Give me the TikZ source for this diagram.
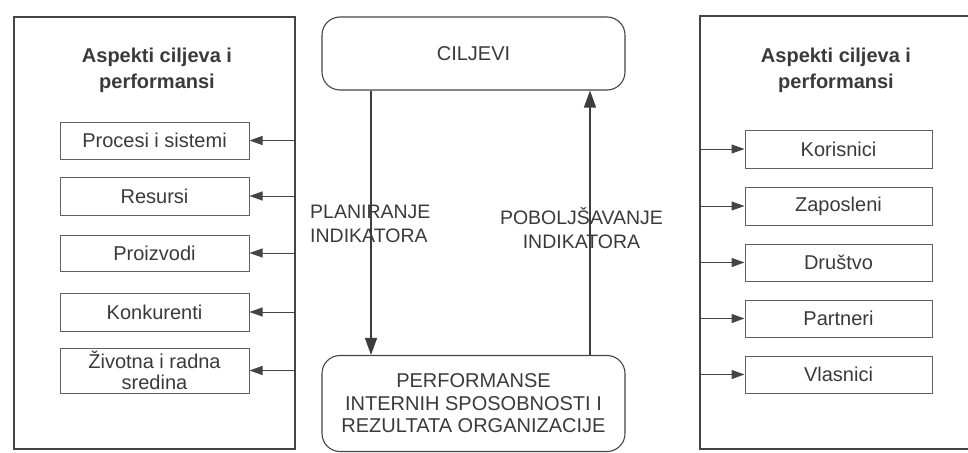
\documentclass[tikz,border=0pt]{standalone}
\usepackage{fontspec}
\setmainfont{Liberation Sans}
\usetikzlibrary{arrows.meta}
\definecolor{ink}{HTML}{3A3A3A}
\definecolor{line}{HTML}{444444}
\tikzset{
  outerbox/.style={draw=line, line width=1.1pt, minimum width=#1, inner sep=0pt},
  itembox/.style={draw=line!85, line width=1pt, minimum width=189pt, inner sep=0pt, align=center, text=ink,
    font=\fontsize{20}{22}\selectfont},
  roundbox/.style={draw=line, line width=1.1pt, rounded corners=18pt, minimum width=303pt, inner sep=0pt,
    align=center, text=ink, font=\fontsize{20}{22.5}\selectfont},
  titletext/.style={align=center, text=ink, font=\fontsize{20}{26}\selectfont\bfseries},
  labeltext/.style={text=ink, font=\fontsize{19.5}{24}\selectfont, inner sep=0pt},
  arr/.style={draw=line, line width=1pt, -{Triangle[length=13pt,width=9pt]}},
  bigarr/.style={draw=line!90!black, line width=1.5pt, -{Triangle[length=17pt,width=12pt]}},
}
\begin{document}
\begin{tikzpicture}[x=1pt,y=-1pt]
\useasboundingbox (0,0) rectangle (968,452);
\clip (0,0) rectangle (968,452);
% outer boxes
\node[outerbox=281pt, minimum height=432pt] (Louter) at (154.5,233) {};
\node[outerbox=290pt, minimum height=433pt] (Router) at (845,232.5) {};
% titles
\node[titletext] (Ltitle) at (157,70) {Aspekti ciljeva i\\performansi};
\node[titletext] (Rtitle) at (836,70) {Aspekti ciljeva i\\performansi};
% left items
\node[itembox, minimum height=37pt] (L1) at (154.5,140.5) {Procesi i sistemi};
\node[itembox, minimum height=38pt] (L2) at (154.5,196) {Resursi};
\node[itembox, minimum height=36pt] (L3) at (154.5,253) {Proizvodi};
\node[itembox, minimum height=38pt] (L4) at (154.5,312) {Konkurenti};
\node[itembox, minimum height=45pt, font=\fontsize{20}{21}\selectfont] (L5) at (154.5,370.5) {Životna i radna\\sredina};
% right items
\node[itembox, minimum width=187pt, minimum height=38pt] (R1) at (838.5,149) {Korisnici};
\node[itembox, minimum width=187pt, minimum height=38pt] (R2) at (838.5,206) {Zaposleni};
\node[itembox, minimum width=187pt, minimum height=37pt] (R3) at (838.5,262.5) {Društvo};
\node[itembox, minimum width=187pt, minimum height=37pt] (R4) at (838.5,318.5) {Partneri};
\node[itembox, minimum width=187pt, minimum height=37pt] (R5) at (838.5,374.5) {Vlasnici};
% arrows left
\foreach \n in {L1,L2,L3,L4,L5}{
  \draw[arr] (\n.east -| Louter.east) -- (\n.east);
}
\foreach \n in {R1,R2,R3,R4,R5}{
  \draw[arr] (\n.west -| Router.west) -- (\n.west);
}
% center boxes
\node[roundbox, minimum height=73pt] (goals) at (473.5,53.5) {CILJEVI};
\node[roundbox, minimum height=96pt] (perf) at (473.5,403.5) {PERFORMANSE\\INTERNIH SPOSOBNOSTI I\\REZULTATA ORGANIZACIJE};
% vertical arrows
\coordinate (dn) at (371,0);
\coordinate (up) at (590,0);
\draw[bigarr] (goals.south -| dn) -- (perf.north -| dn);
\draw[bigarr] (perf.north -| up) -- (goals.south -| up);
% labels
\node[labeltext, anchor=west, align=left] (plan) at (310,224) {PLANIRANJE\\INDIKATORA};
\node[labeltext, align=center] (pobo) at (581.5,228) {POBOLJŠAVANJE\\INDIKATORA};
\end{tikzpicture}
\end{document}
